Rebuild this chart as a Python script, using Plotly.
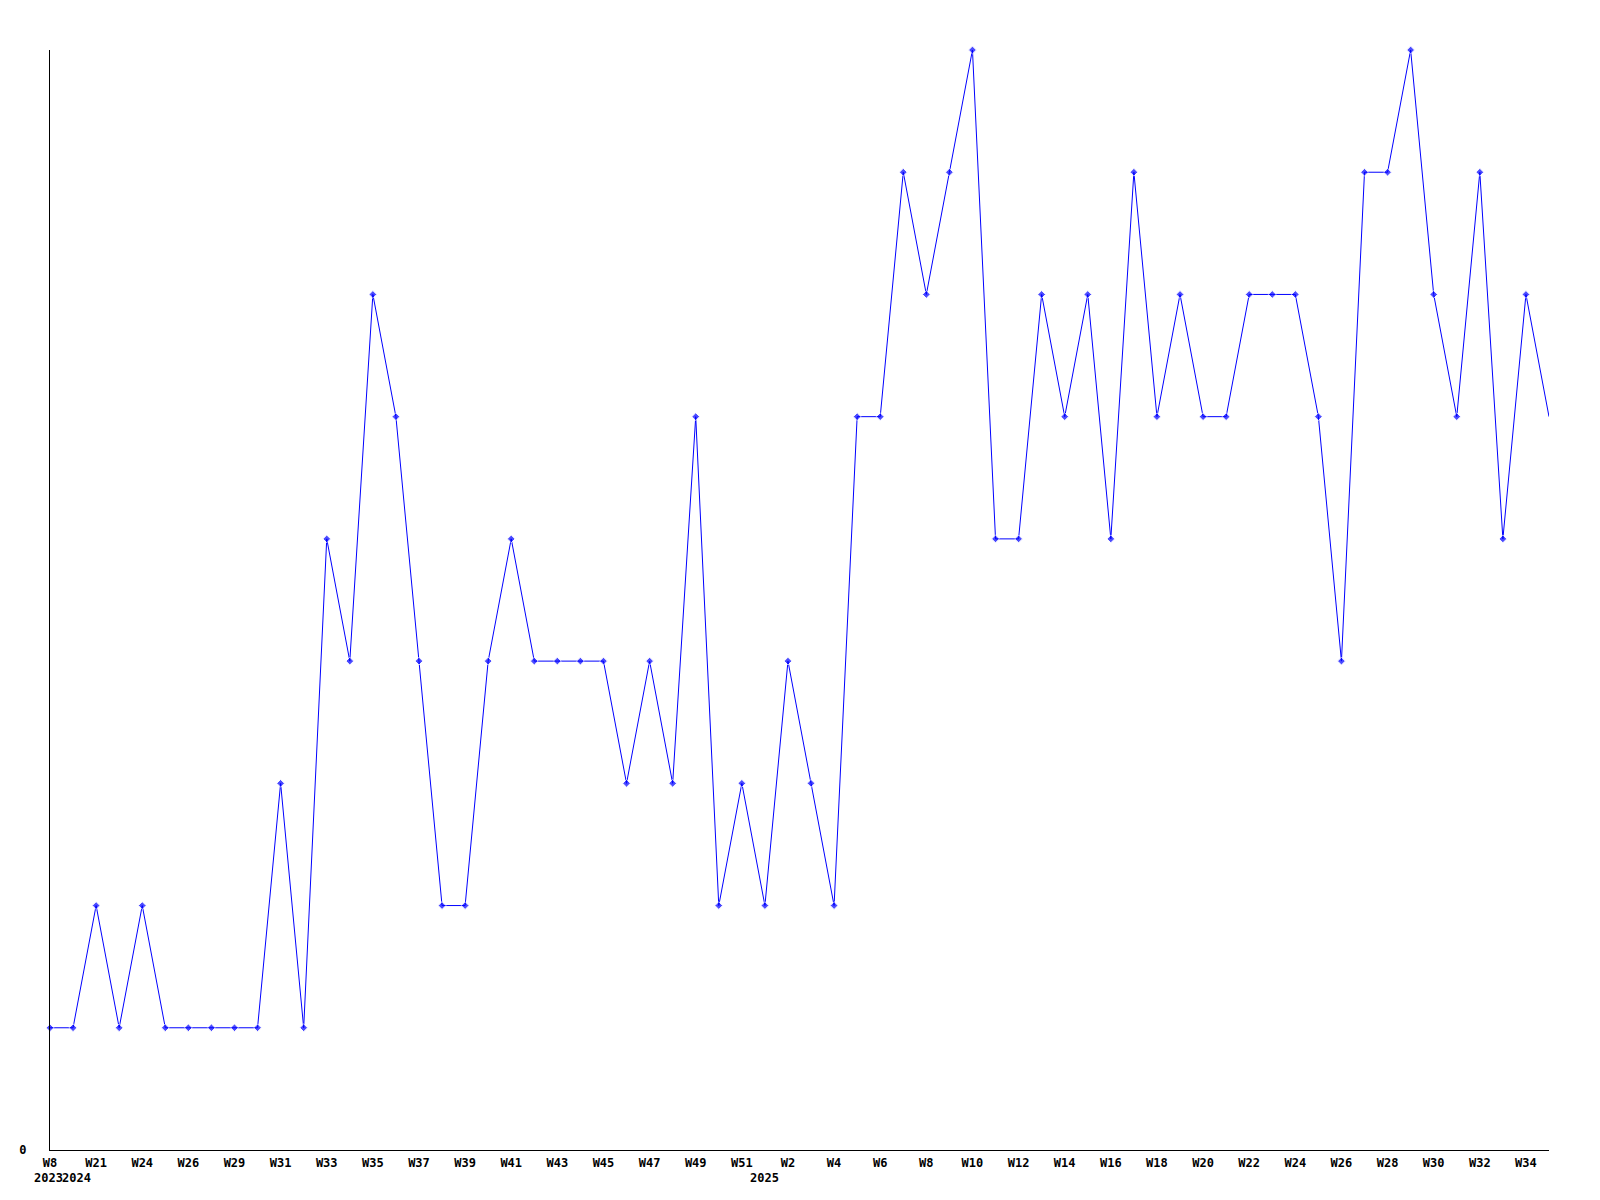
import plotly.graph_objects as go

# week labels for every data point (only every other one is shown on the axis)
weeks = ["W8", "W20", "W21", "W23", "W24", "W25", "W26", "W28", "W29", "W30",
         "W31", "W32", "W33", "W34", "W35", "W36", "W37", "W38", "W39", "W40",
         "W41", "W42", "W43", "W44", "W45", "W46", "W47", "W48", "W49", "W50",
         "W51", "W1", "W2", "W3", "W4", "W5", "W6", "W7", "W8", "W9",
         "W10", "W11", "W12", "W13", "W14", "W15", "W16", "W17", "W18", "W19",
         "W20", "W21", "W22", "W23", "W24", "W25", "W26", "W27", "W28", "W29",
         "W30", "W31", "W32", "W33", "W34", "W35"]

values = [1, 1, 2, 1, 2, 1, 1, 1, 1, 1,
          3, 1, 5, 4, 7, 6, 4, 2, 2, 4,
          5, 4, 4, 4, 4, 3, 4, 3, 6, 2,
          3, 2, 4, 3, 2, 6, 6, 8, 7, 8,
          9, 5, 5, 7, 6, 7, 5, 8, 6, 7,
          6, 6, 7, 7, 7, 6, 4, 8, 8, 9,
          7, 6, 8, 5, 7, 6]

# year labels and the point index at which each year starts
years = ["2023", "2024", "2025"]
year_start = [0, 1, 31]
year_nudge = [-2, 3, 0]

x = list(range(len(values)))
tick_idx = x[::2]
tick_text = [weeks[i] for i in tick_idx]

marker_sizes = [6] * len(values)
marker_sizes[-1] = 0

font_main = dict(family="DejaVu Sans Mono", size=12, color="black", weight="bold")

fig = go.Figure()
fig.add_trace(go.Scatter(
    x=x, y=values, mode="lines+markers",
    line=dict(color="#0000ff", width=1),
    marker=dict(symbol="diamond", size=marker_sizes, color="#0000ff"),
    cliponaxis=False,
    showlegend=False, hoverinfo="skip",
))

for label, idx, nudge in zip(years, year_start, year_nudge):
    fig.add_annotation(x=idx, y=0, xref="x", yref="paper", text=label,
                       showarrow=False, yanchor="top", yshift=-19, xshift=nudge,
                       font=font_main)

fig.update_layout(
    width=1600, height=1200,
    margin=dict(l=42, r=59, t=42, b=58),
    paper_bgcolor="white", plot_bgcolor="white",
    xaxis=dict(range=[0, len(values) - 1], tickmode="array",
               tickvals=tick_idx, ticktext=tick_text,
               showgrid=False, zeroline=False, showline=True,
               linecolor="black", linewidth=1, ticks="",
               tickfont=font_main, ticklabelstandoff=2),
    yaxis=dict(range=[0, 9], tickmode="array", tickvals=[0], ticktext=["0"],
               showgrid=False, zeroline=False, showline=True,
               linecolor="black", linewidth=1, ticks="",
               tickfont=font_main, ticklabelstandoff=20),
)

fig.write_html("out.html")
